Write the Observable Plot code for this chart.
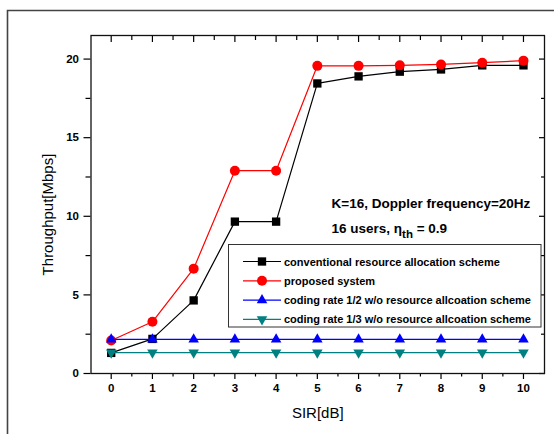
<!DOCTYPE html>
<html><head><meta charset="utf-8">
<script src="https://cdn.jsdelivr.net/npm/d3@7"></script>
<script src="https://cdn.jsdelivr.net/npm/@observablehq/plot@0.6"></script>
<style>body{margin:0;background:#fff} #chart svg{display:block;overflow:hidden}</style>
</head><body><div id="chart"></div>
<script>
const sir = [0, 1, 2, 3, 4, 5, 6, 7, 8, 9, 10];
const conventional = [1.31, 2.2, 4.65, 9.66, 9.66, 18.45, 18.9, 19.2, 19.34, 19.6, 19.6];
const proposed = [2.1, 3.29, 6.67, 12.9, 12.9, 19.57, 19.57, 19.6, 19.66, 19.77, 19.9];
const rateHalf = [2.17, 2.17, 2.17, 2.17, 2.17, 2.17, 2.17, 2.17, 2.17, 2.17, 2.17];
const rateThird = [1.33, 1.33, 1.33, 1.33, 1.33, 1.33, 1.33, 1.33, 1.33, 1.33, 1.33];
const seriesNames = [
  "conventional resource allocation scheme",
  "proposed system",
  "coding rate 1/2 w/o resource allcoation scheme",
  "coding rate 1/3 w/o resource allcoation scheme"
];
const seriesValues = [conventional, proposed, rateHalf, rateThird];
const seriesColors = ["#000000", "#ff0000", "#0000ff", "#008080"];
const seriesSymbols = ["square", "circle", "triangle", "triangle"];
const seriesRotate = [0, 0, 0, 180];
const seriesR = [4.7, 5, 3.9, 3.9];
const xTicks = [0, 1, 2, 3, 4, 5, 6, 7, 8, 9, 10];
const xMinor = [0.5, 1.5, 2.5, 3.5, 4.5, 5.5, 6.5, 7.5, 8.5, 9.5];
const yTicks = [0, 5, 10, 15, 20];
const yMinor = [2.5, 7.5, 12.5, 17.5];
const xLabel = "SIR[dB]";
const yLabel = "Throughput[Mbps]";
const note1 = "K=16, Doppler frequency=20Hz";
const note2 = ["16 users, ", "\u03b7", "th", " = 0.9"];

const font = "'Liberation Sans', Arial, sans-serif";
const blank = () => "";

const seriesMarks = seriesValues.flatMap((vals, k) => {
  const rows = sir.map((x, i) => ({x, y: vals[i]}));
  return [
    Plot.line(rows, {x: "x", y: "y", stroke: seriesColors[k], strokeWidth: 1.2}),
    Plot.dot(rows, {x: "x", y: "y", symbol: () => seriesSymbols[k], fill: seriesColors[k], r: seriesR[k], rotate: seriesRotate[k]})
  ];
});

const chart = Plot.plot({
  width: 554,
  height: 434,
  marginLeft: 90.5,
  marginRight: 10,
  marginTop: 35,
  marginBottom: 61,
  style: {fontFamily: font, background: "#fff", color: "#000"},
  x: {domain: [-0.49, 10.51]},
  y: {domain: [0, 21.5]},
  symbol: {type: "identity"},
  marks: [
    Plot.axisX({anchor: "bottom", ticks: xTicks, tickSize: 6, tickPadding: 4, label: null, fontSize: 11.5, fontWeight: "bold", strokeWidth: 1.2}),
    Plot.axisX({anchor: "bottom", ticks: xMinor, tickSize: 3.5, tickFormat: blank, label: null, strokeWidth: 1.2}),
    Plot.axisX({anchor: "top", ticks: xTicks, tickSize: 6, dy: 6, tickFormat: blank, label: null, strokeWidth: 1.2}),
    Plot.axisX({anchor: "top", ticks: xMinor, tickSize: 4, dy: 4, tickFormat: blank, label: null, strokeWidth: 1.2}),
    Plot.axisY({anchor: "left", ticks: yTicks, tickSize: 7, tickPadding: 5, label: null, fontSize: 11.5, fontWeight: "bold", strokeWidth: 1.2}),
    Plot.axisY({anchor: "left", ticks: yMinor, tickSize: 5, tickFormat: blank, label: null, strokeWidth: 1.2}),
    Plot.axisY({anchor: "right", ticks: yTicks, tickSize: 6, dx: -6, tickFormat: blank, label: null, strokeWidth: 1.2}),
    Plot.axisY({anchor: "right", ticks: yMinor, tickSize: 4, dx: -4, tickFormat: blank, label: null, strokeWidth: 1.2}),
    Plot.frame({stroke: "#111", strokeWidth: 1.3}),
    ...seriesMarks,
    Plot.text([xLabel], {frameAnchor: "bottom", dy: 40, text: d => d, fontSize: 15, lineAnchor: "middle", textAnchor: "middle"}),
    Plot.text([yLabel], {frameAnchor: "left", dx: -43, dy: 10, rotate: -90, text: d => d, fontSize: 15, lineAnchor: "middle", textAnchor: "middle"})
  ]
});

document.getElementById("chart").appendChild(chart);

const svg = d3.select(chart);
svg.append("path").attr("d", "M7.5,434V10.5H554").attr("fill", "none").attr("stroke", "#444").attr("stroke-width", 1.6);

const ann = svg.append("g").attr("font-family", font).attr("font-weight", "bold").attr("font-size", 13.5)
  .attr("fill", "#000").attr("text-anchor", "start");
ann.append("text").attr("x", 331.5).attr("y", 208).text(note1);
const t2 = ann.append("text").attr("x", 331.5).attr("y", 233);
t2.append("tspan").text(note2[0]);
t2.append("tspan").text(note2[1]);
t2.append("tspan").attr("dy", 5).attr("font-size", 11.5).text(note2[2]);
t2.append("tspan").attr("dy", -5).text(note2[3]);

const lg = svg.append("g").attr("text-anchor", "start");
lg.append("rect").attr("x", 228.5).attr("y", 244.5).attr("width", 312.5).attr("height", 82.5)
  .attr("fill", "#fff").attr("stroke", "#333").attr("stroke-width", 1);
const symMap = {square: d3.symbolSquare, circle: d3.symbolCircle, triangle: d3.symbolTriangle};
seriesNames.forEach((name, k) => {
  const cy = 261.5 + k * 19.3;
  lg.append("line").attr("x1", 243).attr("x2", 281).attr("y1", cy).attr("y2", cy)
    .attr("stroke", seriesColors[k]).attr("stroke-width", 1.2);
  lg.append("path").attr("d", d3.symbol(symMap[seriesSymbols[k]], Math.PI * seriesR[k] * seriesR[k])())
    .attr("transform", `translate(262,${cy}) rotate(${seriesRotate[k]})`).attr("fill", seriesColors[k]);
  lg.append("text").attr("x", 284).attr("y", cy + 4).attr("font-family", font).attr("font-size", 11)
    .attr("font-weight", "bold").attr("fill", "#000").text(name);
});
</script>
</body></html>
